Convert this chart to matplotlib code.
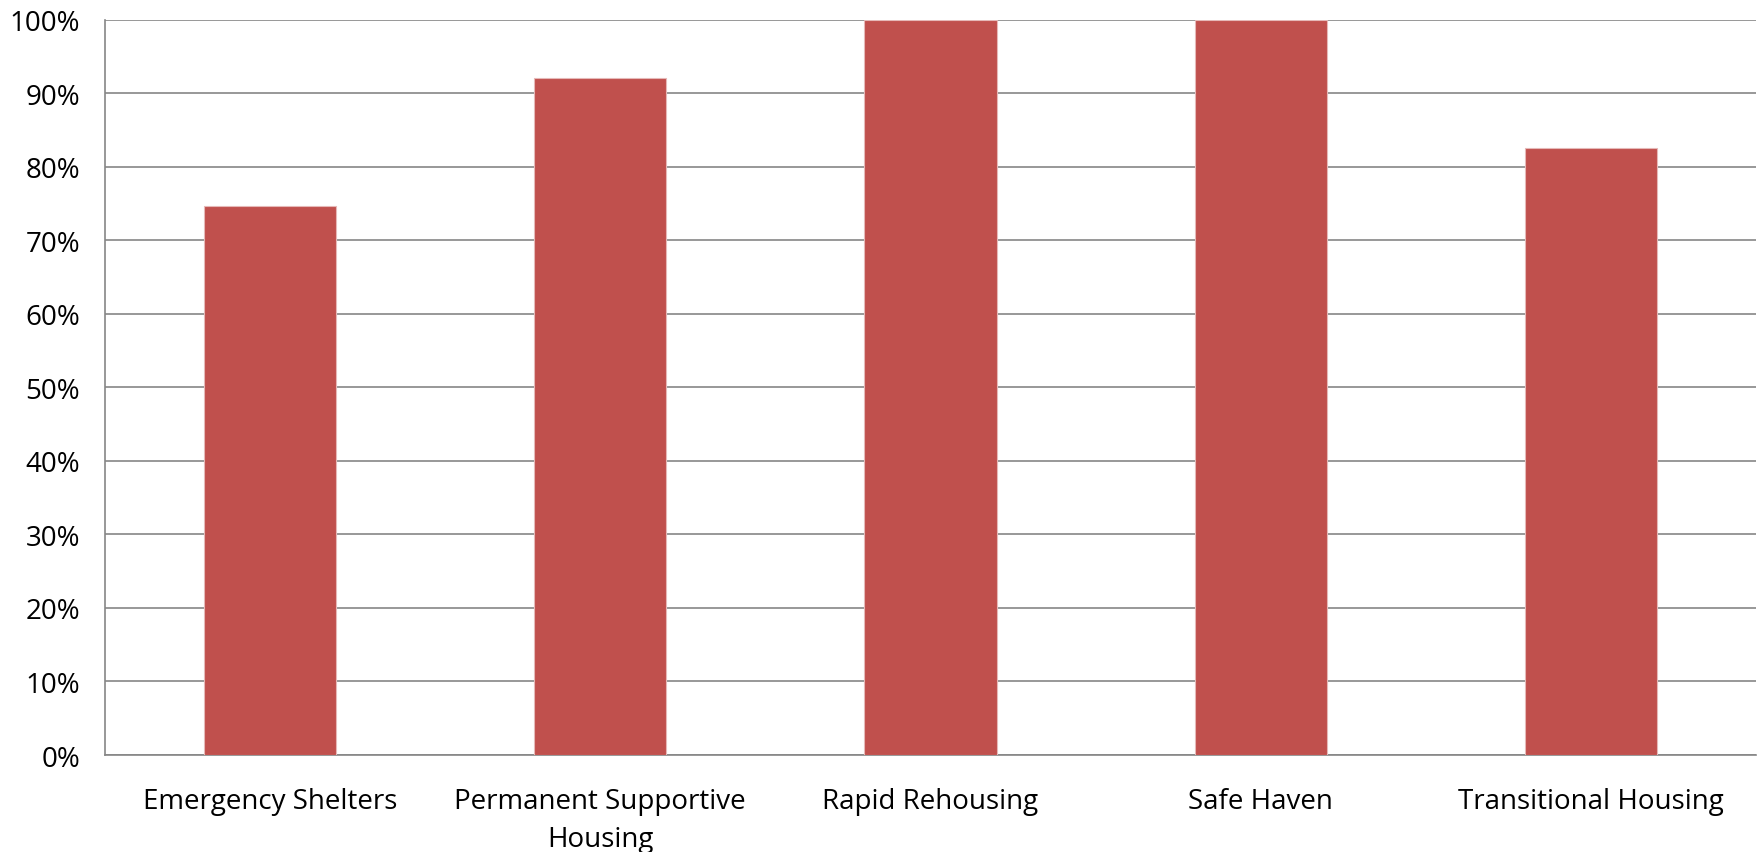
import matplotlib.pyplot as plt
from matplotlib.ticker import PercentFormatter

categories = ["Emergency Shelters", "Permanent Supportive\nHousing", "Rapid Rehousing",
              "Safe Haven", "Transitional Housing"]
values = [74.7, 92.1, 100.0, 100.0, 82.6]

plt.rcParams['font.family'] = ['Open Sans', 'DejaVu Sans']

fig = plt.figure(figsize=(17.61, 8.53), dpi=100)
ax = fig.add_axes([0.0596, 0.1137, 0.9376, 0.862])

x = list(range(len(categories)))
ax.bar(x, values, width=0.4, color='#C0504D', edgecolor='#E6B9B8', linewidth=0.8, zorder=3)

ax.set_xlim(-0.5, len(categories) - 0.5)
ax.set_ylim(0, 100)
ax.set_yticks(range(0, 101, 10))
ax.yaxis.set_major_formatter(PercentFormatter(decimals=0))
ax.set_xticks(x)
ax.set_xticklabels(categories, fontsize=20, linespacing=1.5)
ax.tick_params(axis='y', labelsize=20, length=0, pad=18)
ax.tick_params(axis='x', length=0, pad=23)

ax.grid(axis='y', color='#868686', linewidth=1.2, zorder=0)
for side in ['top', 'right']:
    ax.spines[side].set_visible(False)
for side in ['left', 'bottom']:
    ax.spines[side].set_color('#868686')
    ax.spines[side].set_linewidth(1.2)

fig.savefig("out.png", dpi=100)
plt.close(fig)
